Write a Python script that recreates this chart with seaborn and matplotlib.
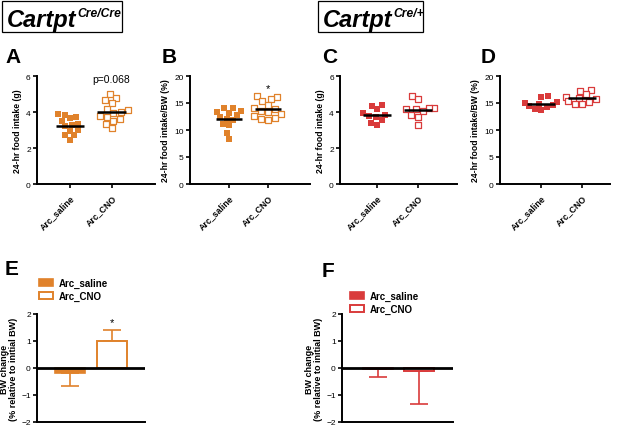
import matplotlib
matplotlib.use("Agg")
import matplotlib.pyplot as plt
from matplotlib.patches import Patch, Rectangle
import seaborn as sns
import pandas as pd
import numpy as np

sns.set_style("ticks")
plt.rcParams['font.family'] = ['Liberation Sans', 'DejaVu Sans']
plt.rcParams['text.color'] = 'black'
plt.rcParams['axes.labelcolor'] = 'black'
plt.rcParams['xtick.color'] = 'black'
plt.rcParams['ytick.color'] = 'black'

ORANGE = "#E0822B"
RED = "#D93B3B"

groups = ["Arc_saline", "Arc_CNO"]

# Panel A: 24-hr food intake (g), Cartpt Cre/Cre
a_saline = [3.9, 3.85, 3.7, 3.65, 3.5, 3.35, 3.3, 3.2, 3.0, 2.95, 2.7, 2.7, 2.45]
a_cno = [5.0, 4.8, 4.65, 4.5, 4.15, 4.1, 4.0, 3.95, 3.8, 3.75, 3.6, 3.5, 3.35, 3.1]
# Panel B: 24-hr food intake/BW (%), Cartpt Cre/Cre
b_saline = [14.1, 14.0, 13.6, 13.4, 13.2, 12.7, 12.4, 12.1, 11.8, 11.2, 10.9, 9.5, 8.4]
b_cno = [16.3, 16.2, 15.8, 15.3, 14.6, 14.0, 13.8, 13.5, 13.3, 12.9, 12.6, 12.2, 12.0, 11.8]
# Panel C: 24-hr food intake (g), Cartpt Cre/+
c_saline = [4.4, 4.35, 4.15, 3.95, 3.85, 3.8, 3.7, 3.55, 3.4, 3.3]
c_cno = [4.9, 4.7, 4.25, 4.2, 4.15, 4.15, 4.05, 3.85, 3.75, 3.3]
# Panel D: 24-hr food intake/BW (%), Cartpt Cre/+
d_saline = [16.3, 16.2, 15.2, 15.0, 14.8, 14.6, 14.4, 14.2, 13.9, 13.7]
d_cno = [17.5, 17.3, 16.6, 16.2, 16.0, 15.7, 15.4, 15.2, 14.9, 14.8]
# Panels E/F: BW change (% relative to initial BW), mean and SEM
e_mean = [-0.2, 1.0]
e_sem = [0.45, 0.4]
f_mean = [-0.02, -0.1]
f_sem = [0.3, 1.25]

fig = plt.figure(figsize=(6.17, 4.27), dpi=100)
W, H = 617, 427


def ax_px(l, t, r, b):
    return fig.add_axes([l / W, 1 - b / H, (r - l) / W, (b - t) / H])


def style_axis(ax):
    sns.despine(ax=ax)
    for s in ["left", "bottom"]:
        ax.spines[s].set_linewidth(1.4)
        ax.spines[s].set_color("black")
    ax.tick_params(axis="both", width=1.2, length=3, labelsize=6, pad=1.5,
                   color="black", labelcolor="black")


def scatter_panel(rect, saline, cno, color, yticks, ylabel, xlim, ann=None):
    ax = ax_px(*rect)
    df_s = pd.DataFrame({"group": "Arc_saline", "value": saline})
    df_c = pd.DataFrame({"group": "Arc_CNO", "value": cno})
    sns.swarmplot(data=df_s, x="group", y="value", order=groups, ax=ax,
                  marker="s", size=4.5, color=color, linewidth=0, zorder=3)
    sns.swarmplot(data=df_c, x="group", y="value", order=groups, ax=ax,
                  marker="s", size=4.1, color="white", edgecolor=color,
                  linewidth=0.9, zorder=3)
    for i, vals in enumerate([saline, cno]):
        m = float(np.mean(vals))
        ax.hlines(m, i - 0.34, i + 0.34, color="black", lw=1.8, zorder=5)
    ax.set_ylim(yticks[0], yticks[-1])
    ax.set_yticks(yticks)
    ax.set_xlim(*xlim)
    ax.set_xlabel("")
    ax.set_ylabel(ylabel, fontsize=6.2, fontweight="bold", labelpad=3)
    style_axis(ax)
    ax.set_xticks([0, 1])
    ax.set_xticklabels(groups, rotation=45, ha="right", rotation_mode="anchor",
                       fontsize=6.3, fontweight="bold")
    ax.tick_params(axis="x", pad=3)
    if ann is not None:
        txt, yv, fs = ann
        ax.text(1, yv, txt, ha="center", va="bottom", fontsize=fs)
    return ax


scatter_panel((37, 77, 155, 185), a_saline, a_cno, ORANGE, [0, 2, 4, 6],
              "24-hr food intake (g)", (-0.79, 2.04), ("p=0.068", 5.55, 7.5))
scatter_panel((190, 77, 310, 185), b_saline, b_cno, ORANGE, [0, 5, 10, 15, 20],
              "24-hr food intake/BW (%)", (-1.0, 2.08), ("*", 16.9, 8))
scatter_panel((340, 77, 457, 185), c_saline, c_cno, RED, [0, 2, 4, 6],
              "24-hr food intake (g)", (-0.9, 1.95))
scatter_panel((500, 77, 610, 185), d_saline, d_cno, RED, [0, 5, 10, 15, 20],
              "24-hr food intake/BW (%)", (-1.0, 1.68))


def bar_panel(rect, means, sems, color, xlim, star=None):
    ax = ax_px(*rect)
    df = pd.DataFrame({"group": groups, "value": means})
    sns.barplot(data=df, x="group", y="value", order=groups, ax=ax,
                color=color, width=0.72, errorbar=None, zorder=2)
    bars = ax.patches
    bars[0].set_facecolor(color)
    bars[0].set_edgecolor(color)
    bars[0].set_linewidth(1.2)
    bars[1].set_facecolor("white")
    bars[1].set_edgecolor(color)
    bars[1].set_linewidth(1.4)
    for i, (m, s) in enumerate(zip(means, sems)):
        lo = [s] if m < 0 else [0]
        hi = [s] if m >= 0 else [0]
        ax.errorbar([i], [m], yerr=[lo, hi], fmt="none", ecolor=color,
                    elinewidth=1.2, capsize=6.5, capthick=1.2, zorder=1)
    ax.axhline(0, color="black", lw=2, zorder=4)
    ax.set_ylim(-2, 2)
    ax.set_yticks([-2, -1, 0, 1, 2])
    ax.set_xlim(*xlim)
    ax.set_xticks([])
    ax.set_xlabel("")
    ax.set_ylabel("BW change\n(% relative to initial BW)", fontsize=6.5,
                  fontweight="bold", labelpad=2, linespacing=1.1)
    style_axis(ax)
    if star is not None:
        ax.text(1, star, "*", ha="center", va="bottom", fontsize=8)
    return ax


bar_panel((37, 315, 145, 423), e_mean, e_sem, ORANGE, (-0.8, 1.8), star=1.5)
bar_panel((342, 315, 453, 423), f_mean, f_sem, RED, (-0.88, 1.83))

# Legends for E and F
for (lx, ly), color in [((39, 279), ORANGE), ((350, 292), RED)]:
    handles = [Patch(facecolor=color, edgecolor=color, linewidth=1.2),
               Patch(facecolor="white", edgecolor=color, linewidth=1.4)]
    leg = fig.legend(handles, groups, loc="upper left",
                     bbox_to_anchor=(lx / W, 1 - ly / H), frameon=False,
                     prop={"size": 7, "weight": "bold"}, handlelength=1.4,
                     handleheight=0.8, handletextpad=0.6, labelspacing=0.3,
                     borderpad=0, borderaxespad=0)
    for txt in leg.get_texts():
        txt.set_color("black")

# Panel letters
for letter, x, y in [("A", 5, 63), ("B", 162, 63), ("C", 322, 63), ("D", 481, 63),
                     ("E", 5, 275), ("F", 322, 277)]:
    fig.text(x / W, 1 - y / H, letter, fontsize=15, fontweight="bold",
             ha="left", va="baseline", color="black")

# Genotype title boxes
for (bx0, bx1), sup, tx in [((2, 122), "Cre/Cre", 7), ((318, 423), "Cre/+", 323)]:
    fig.patches.append(Rectangle((bx0 / W, 1 - 33 / H), (bx1 - bx0) / W, 31 / H,
                                 transform=fig.transFigure, fill=False,
                                 edgecolor="black", linewidth=0.9))
    t = fig.text(tx / W, 1 - 27 / H, "Cartpt", fontsize=17, fontweight="bold",
                 fontstyle="italic", ha="left", va="baseline", color="black")
    fig.canvas.draw()
    bb = t.get_window_extent()
    fig.text((bb.x1 + 0.5) / W, 1 - 17 / H, sup, fontsize=8.7, fontweight="bold",
             fontstyle="italic", ha="left", va="baseline", color="black")

fig.savefig("out.png", dpi=100)
